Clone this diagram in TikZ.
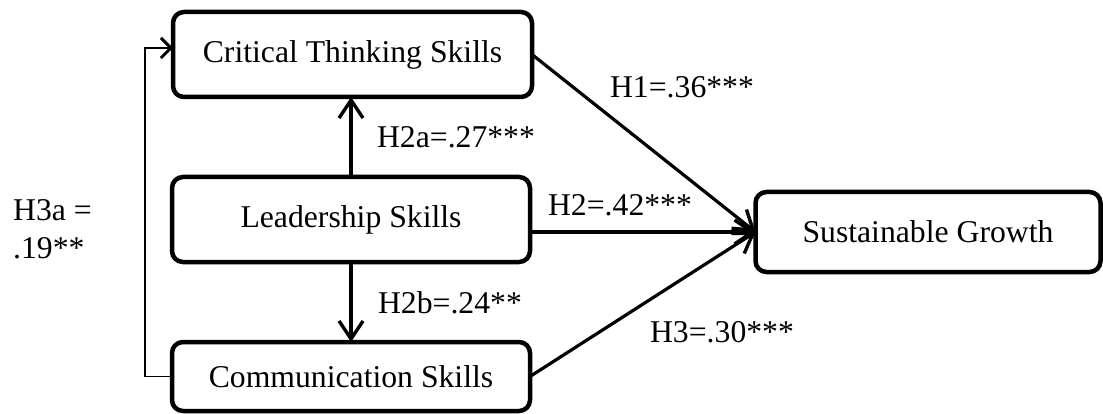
\documentclass[tikz,border=0pt]{standalone}
\usepackage{fontspec}
\setmainfont{Liberation Serif}
\usetikzlibrary{arrows.meta,calc}
\begin{document}
\begin{tikzpicture}[x=1pt,y=-1pt,
  box/.style={draw=black,line width=4.5pt,rounded corners=11pt,inner sep=0pt,outer sep=0pt,align=center},
  lbl/.style={inner sep=0pt,align=left},
  arr/.style={line width=3.2pt,-{Straight Barb[length=18pt,width=24pt,line width=3.4pt]}},
  thinarr/.style={line width=1.8pt,-{Straight Barb[length=10pt,width=20pt,line width=3pt]}}
]
\useasboundingbox (0,0) rectangle (1103,414);
\fontsize{31.7}{38}\selectfont
\node[box,minimum width=359pt,minimum height=85pt] (crit) at (352.5,54.5) {Critical Thinking Skills};
\node[box,minimum width=358pt,minimum height=85pt] (lead) at (351,219.5) {Leadership Skills};
\node[box,minimum width=358pt,minimum height=69pt] (comm) at (351,376.5) {Communication Skills};
\node[box,minimum width=345pt,minimum height=80pt] (sus) at (928,232) {Sustainable Growth};

\coordinate (h3a) at (145,0);
\coordinate (cw) at ($(crit.west)+(0,-6.5)$);

\draw[arr] (crit.east) -- (sus.west);
\draw[arr] (lead.east |- sus.west) -- (sus.west);
\draw[arr] (comm.east) -- (sus.west);
\draw[arr] (lead.north) -- (lead.north |- crit.south);
\draw[arr] (lead.south) -- (lead.south |- comm.north);
\draw[thinarr] (comm.west) -- (comm.west -| h3a) -- (h3a |- cw) -- (cw);

\node[lbl] (l1) at (682,87) {H1=.36***};
\node[lbl] (l2a) at (456,137) {H2a=.27***};
\node[lbl] (l2) at (620,205) {H2=.42***};
\node[lbl] (l2b) at (450,303) {H2b=.24**};
\node[lbl] (l3) at (722,332) {H3=.30***};
\node[lbl,anchor=west] (l3a) at (13,229) {H3a =\\.19**};
\end{tikzpicture}
\end{document}
